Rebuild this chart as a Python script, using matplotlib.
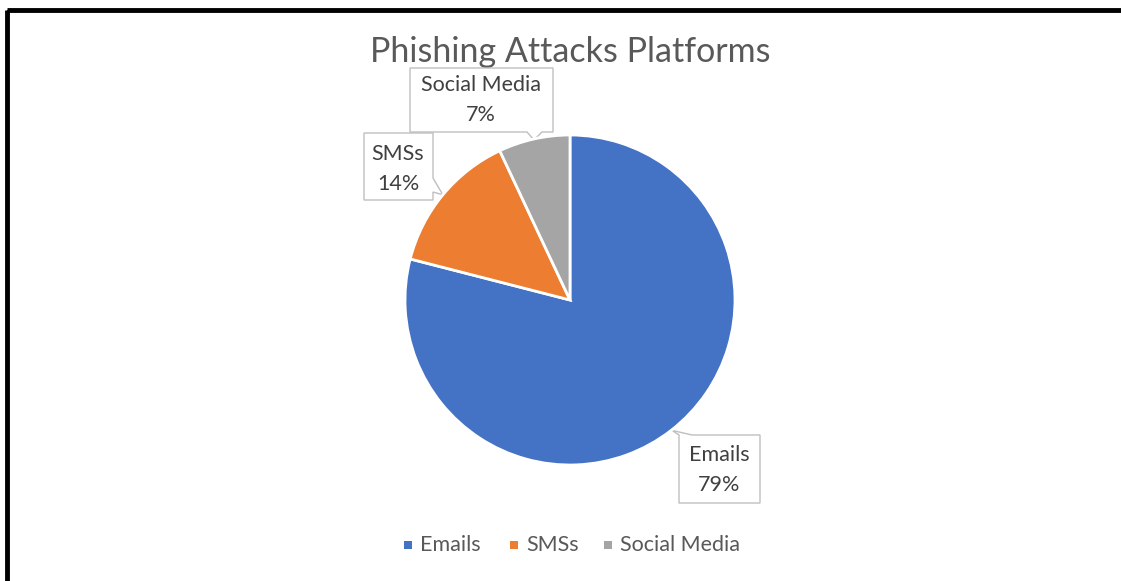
import numpy as np
import matplotlib
matplotlib.use("Agg")
import matplotlib.pyplot as plt
from matplotlib.patches import Polygon, Rectangle

categories = ["Emails", "SMSs", "Social Media"]
shares = [79, 14, 7]
colors = ["#4472C4", "#ED7D31", "#A5A5A5"]

W, H = 1121, 581
plt.rcParams["font.family"] = ["Lato", "DejaVu Sans"]

fig = plt.figure(figsize=(W / 100, H / 100), dpi=100)
fig.patch.set_facecolor("white")

# overlay in pixel coordinates (origin top-left)
ov = fig.add_axes([0, 0, 1, 1])
ov.set_xlim(0, W)
ov.set_ylim(H, 0)
ov.axis("off")

# frame around the chart area
ov.add_patch(Rectangle((7, 10), W + 20, H + 20, fill=False, edgecolor="black", lw=3.5))

# pie
cx, cy, R = 570, 300, 165
pax = fig.add_axes([(cx - R) / W, 1 - (cy + R) / H, 2 * R / W, 2 * R / H])
wedges, _ = pax.pie(shares, colors=colors, startangle=90, counterclock=False,
                    wedgeprops=dict(edgecolor="white", linewidth=2))
pax.set_xlim(-1, 1)
pax.set_ylim(-1, 1)
pax.axis("off")

ov.text(cx, 52, "Phishing Attacks Platforms", ha="center", va="center",
        fontsize=24.5, color="#595959")

# callout labels
total = sum(shares)
angles = []
start = 90.0
for s in shares:
    span = 360.0 * s / total
    angles.append(start - span / 2)
    start -= span


def tip(i):
    a = np.deg2rad(angles[i])
    return cx + R * np.cos(a), cy - R * np.sin(a)


def callout(verts, text_xy, label):
    ov.add_patch(Polygon(verts, closed=True, facecolor="white",
                         edgecolor="#BFBFBF", lw=1.0, zorder=3))
    ov.text(text_xy[0], text_xy[1], label, ha="center", va="center",
            fontsize=15.5, color="#404040", linespacing=1.6, zorder=4)


# Social Media
tx, ty = tip(2)
callout([(410, 68), (553, 68), (553, 132), (542, 132), (tx, ty + 1),
         (527, 132), (410, 132)],
        (481, 100), f"{categories[2]}\n{shares[2]}%")

# SMSs
tx, ty = tip(1)
callout([(364, 133), (433, 133), (433, 178), (tx, ty), (433, 192),
         (433, 200), (364, 200)],
        (398, 169), f"{categories[1]}\n{shares[1]}%")

# Emails
tx, ty = tip(0)
callout([(679, 435), (tx + 1, ty), (692, 435), (760, 435), (760, 503),
         (679, 503)],
        (719, 470), f"{categories[0]}\n{shares[0]}%")

# legend
leg_x = [408, 514, 608]
for x, c, name in zip(leg_x, colors, categories):
    ov.add_patch(Rectangle((x - 4, 541), 8, 8, facecolor=c, edgecolor="none"))
    ov.text(x + 12, 545, name, ha="left", va="center", fontsize=15.5,
            color="#595959")

fig.savefig("out.png", dpi=100, facecolor="white")
